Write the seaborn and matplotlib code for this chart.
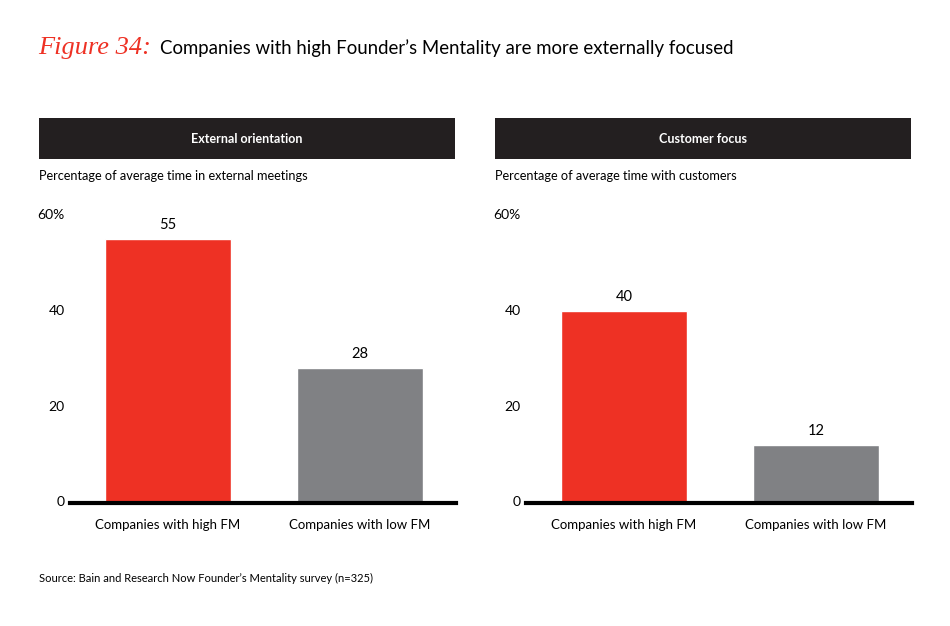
import matplotlib
matplotlib.use("Agg")
import matplotlib.pyplot as plt
import seaborn as sns
from matplotlib.patches import Rectangle

# Data
categories = ["Companies with high FM", "Companies with low FM"]
external_values = [55, 28]
customer_values = [40, 12]
panel_titles = ["External orientation", "Customer focus"]
panel_subtitles = ["Percentage of average time in external meetings",
                   "Percentage of average time with customers"]
y_ticks = [0, 20, 40, 60]
y_tick_labels = ["0", "20", "40", "60%"]

RED = "#EE3124"
GREY = "#808184"
DARK = "#231F20"

sns.set_theme(style="white")
plt.rcParams['font.family'] = ['Lato', 'DejaVu Sans']

fig = plt.figure(figsize=(9.5, 6.26), dpi=100)
W, H = 950, 626


def fx(px):
    return px / W


def fy(py):
    return 1 - py / H


# Title
fig.text(fx(38), fy(48), "Figure 34:", color=RED, fontsize=19, style='italic',
         family=['Liberation Serif', 'DejaVu Serif'], va='center', ha='left')
fig.text(fx(160), fy(48), "Companies with high Founder\u2019s Mentality are more externally focused",
         color='black', fontsize=13.4, va='center', ha='left')

panels = [
    (external_values, 39, 70),
    (customer_values, 495, 526),
]

for i, (vals, box_left, ax_left) in enumerate(panels):
    # header box
    fig.patches.append(Rectangle((fx(box_left), fy(159)), fx(416), 41 / H,
                                 transform=fig.transFigure, facecolor=DARK,
                                 edgecolor='none'))
    fig.text(fx(box_left + 208), fy(139), panel_titles[i], color='white',
             fontsize=9, fontweight='bold', ha='center', va='center')
    fig.text(fx(box_left), fy(176), panel_subtitles[i], color='black',
             fontsize=9.2, ha='left', va='center')

    ax = fig.add_axes([fx(ax_left), fy(502.5), fx(386), 287.5 / H])
    sns.barplot(x=categories, y=vals, hue=categories, palette=[RED, GREY],
                width=0.66, legend=False, ax=ax, saturation=1)
    ax.set_ylim(0, 60)
    ax.set_xlim(-0.51, 1.5)
    ax.set_yticks(y_ticks)
    ax.set_yticklabels(y_tick_labels)
    ax.tick_params(axis='y', length=0, pad=4, labelsize=10, colors='black')
    ax.tick_params(axis='x', length=0, pad=12, labelsize=9.5, colors='black')
    for s in ['top', 'right', 'left']:
        ax.spines[s].set_visible(False)
    ax.spines['bottom'].set_linewidth(3)
    ax.spines['bottom'].set_color('black')
    ax.spines['bottom'].set_zorder(5)
    ax.grid(False)
    ax.set_xlabel("")
    ax.set_ylabel("")
    for xi, v in enumerate(vals):
        ax.annotate(str(v), (xi, v), xytext=(0, 5), textcoords='offset points',
                    ha='center', va='bottom', fontsize=10.5, color='black')
    for lbl in ax.get_yticklabels():
        lbl.set_va('center')

fig.text(fx(39), fy(578), "Source: Bain and Research Now Founder\u2019s Mentality survey (n=325)",
         fontsize=8, ha='left', va='center', color='black')

fig.savefig("out.png", dpi=100)
